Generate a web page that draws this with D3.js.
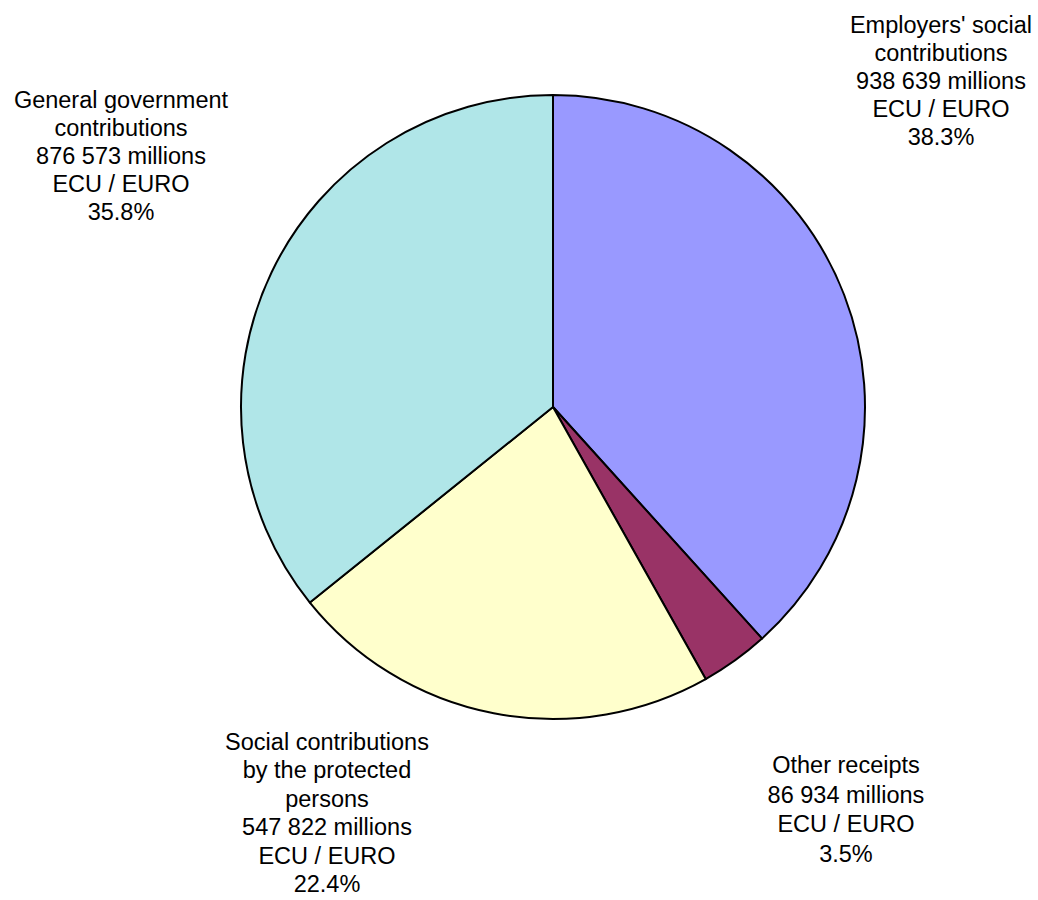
<!DOCTYPE html>
<html>
<head>
<meta charset="utf-8">
<script src="https://cdn.jsdelivr.net/npm/d3@7"></script>
<style>
  html, body { margin: 0; padding: 0; background: #fff; }
  text { font-family: "Liberation Sans", Arial, sans-serif; fill: #000; }
</style>
</head>
<body>
<svg id="chart" width="1038" height="900"></svg>
<script>
// ---- data ----
const categories = [
  ["Employers' social", "contributions"],
  ["Other receipts"],
  ["Social contributions", "by the protected", "persons"],
  ["General government", "contributions"]
];
const values = [938639, 86934, 547822, 876573];
const valueLabels = ["938 639", "86 934", "547 822", "876 573"];
const unitLabel = "millions";
const currencyLabel = "ECU / EURO";
const colors = ["#9999FF", "#993366", "#FFFFCC", "#B0E6E8"];

// ---- layout ----
const cx = 553, cy = 407, radius = 312;
// centre x, first-line baseline y, line spacing of each label block
const labelAnchors = [[941, 33, 28], [846, 773, 29.5], [327, 750, 28.4], [121, 108, 28]];
const fontSize = 23.5;

const svg = d3.select("#chart");
const total = d3.sum(values);

const pie = d3.pie().sort(null).value(d => d);
const arcs = pie(values);
const arc = d3.arc().innerRadius(0).outerRadius(radius);

const g = svg.append("g").attr("transform", `translate(${cx},${cy})`);
g.selectAll("path")
  .data(arcs)
  .join("path")
  .attr("d", arc)
  .attr("fill", (d, i) => colors[i])
  .attr("stroke", "#000")
  .attr("stroke-width", 2)
  .attr("stroke-linejoin", "round");

const fmtPct = d3.format(".1%");
arcs.forEach((a, i) => {
  const [lx, ly, lh] = labelAnchors[i];
  const lines = categories[i].concat([
    `${valueLabels[i]} ${unitLabel}`,
    currencyLabel,
    fmtPct(values[i] / total)
  ]);
  const t = svg.append("text")
    .attr("text-anchor", "middle")
    .attr("font-size", fontSize)
    .attr("x", lx)
    .attr("y", ly);
  lines.forEach((ln, j) => {
    t.append("tspan")
      .attr("x", lx)
      .attr("y", ly + j * lh)
      .text(ln);
  });
});
</script>
</body>
</html>
